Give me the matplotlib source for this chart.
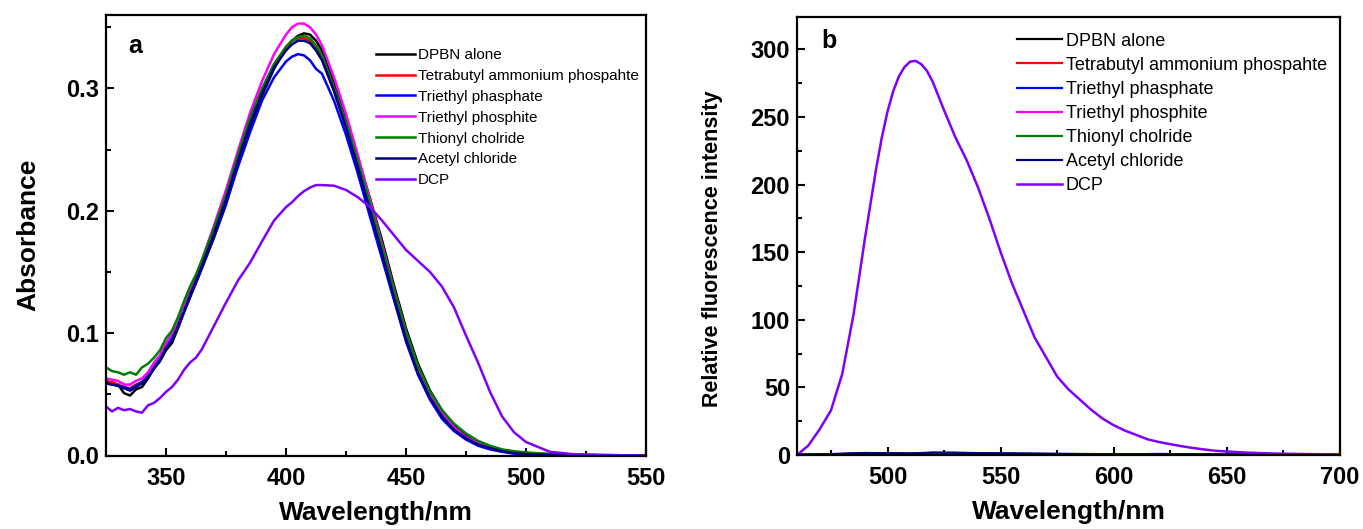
import matplotlib
matplotlib.use("Agg")
import matplotlib.pyplot as plt
from matplotlib.ticker import MultipleLocator

plt.rcParams['font.family'] = ['Liberation Sans', 'DejaVu Sans']

# ---- panel a: absorbance ----
wl_a = [325, 327.5, 330, 332.5, 335, 337.5, 340, 342.5, 345, 347.5, 350, 352.5, 355, 357.5, 360, 362.5, 365,
        370, 375, 380, 385, 390, 395, 400, 402.5, 405, 407.5, 410, 412.5,
        415, 420, 425, 430, 435, 440, 445, 450, 455, 460, 465, 470, 475, 480, 485, 490, 495, 500,
        510, 520, 530, 540, 550]

abs_dpbn = [.061, .059, .058, .051, .049, .054, .056, .063, .071, .077, .086, .092, .104, .117, .129, .141, .153,
            .178, .205, .238, .268, .294, .316, .333, .339, .343, .345, .344, .339,
            .331, .304, .275, .243, .210, .176, .139, .104, .075, .053, .037, .025, .017, .011, .007, .0045, .003, .002,
            .001, .0005, .0003, .0002, .0001]
abs_tbap = [.060, .060, .058, .056, .055, .058, .060, .066, .073, .079, .089, .095, .108, .120, .133, .145, .157,
            .183, .211, .243, .273, .298, .319, .334, .339, .341, .341, .339, .333,
            .324, .298, .268, .235, .201, .166, .130, .096, .068, .047, .032, .021, .014, .009, .006, .004, .0025, .0015,
            .0008, .0004, .0002, .0001, 0]
abs_tep = [.059, .058, .057, .056, .054, .057, .060, .065, .072, .080, .089, .096, .106, .117, .130, .142, .154,
           .180, .206, .236, .264, .290, .309, .322, .326, .328, .327, .323, .316,
           .312, .290, .262, .230, .195, .161, .127, .093, .066, .0455, .030, .020, .013, .008, .005, .003, .0015, .001,
           .0005, .0002, .0001, 0, 0]
abs_tepi = [.063, .062, .061, .058, .058, .061, .063, .068, .076, .082, .092, .100, .108, .121, .135, .146, .160,
            .188, .217, .249, .280, .306, .328, .344, .350, .353, .353, .350, .344,
            .335, .309, .279, .245, .209, .173, .136, .101, .072, .050, .034, .023, .015, .010, .006, .004, .0025, .0015,
            .0007, .0003, .0002, .0001, 0]
abs_socl = [.072, .069, .068, .066, .068, .066, .072, .075, .080, .086, .096, .102, .113, .126, .138, .148, .160,
            .186, .213, .246, .276, .300, .320, .334, .339, .342, .343, .341, .335,
            .327, .301, .272, .240, .206, .171, .135, .101, .073, .052, .037, .026, .018, .012, .008, .005, .0035, .0025,
            .0012, .0006, .0003, .0002, .0001]
abs_accl = [.059, .058, .057, .055, .053, .056, .059, .064, .071, .078, .088, .094, .106, .118, .131, .143, .155,
            .181, .209, .241, .271, .296, .317, .331, .336, .339, .339, .337, .331,
            .323, .298, .268, .235, .200, .165, .129, .095, .067, .047, .032, .021, .014, .009, .006, .0035, .002, .0012,
            .0006, .0003, .0001, 0, 0]
abs_dcp = [.040, .036, .039, .037, .038, .036, .035, .041, .043, .047, .052, .056, .062, .070, .076, .080, .087,
           .106, .125, .143, .1575, .175, .192, .203, .207, .212, .216, .219, .221,
           .221, .2205, .217, .211, .203, .192, .180, .168, .159, .150, .138, .121, .098, .076, .052, .032, .019, .011,
           .003, .001, .0005, .0002, .0001]

# ---- panel b: fluorescence ----
wl_b = [460, 465, 470, 475, 480, 485, 490, 495, 497.5, 500, 502.5, 505, 507.5, 510, 512.5, 515, 517.5,
        520, 525, 530, 535, 540, 545, 550,
        555, 560, 565, 570, 575, 580, 585, 590, 595, 600, 605, 610, 615, 620, 625, 630, 635, 640, 645, 650,
        655, 660, 665, 670, 675, 680, 685, 690, 695, 700]
fl_dcp = [0, 7, 19, 33, 60, 104, 160, 212, 235, 254, 269, 280, 287, 291, 291.5, 289, 284,
          276, 255, 235, 218, 198, 175, 150,
          127, 107, 87, 72.5, 58, 48.5, 41, 33.5, 27, 22, 18, 14.8, 11.6, 9.6, 8, 6.5, 5.2, 4.1, 3.1, 2.6,
          2.1, 1.7, 1.4, 1.1, 0.9, 0.8, 0.7, 0.6, 0.5, 0.4]

wl_b_low = [460, 470, 480, 490, 500, 510, 520, 530, 540, 550, 560, 570, 580, 590, 600, 610, 620, 630,
            640, 650, 660, 670, 680, 690, 700]
fl_dpbn = [0.2, 0.4, 0.8, 1.4, 1.2, 1.0, 1.6, 1.5, 1.2, 1.0, 0.9, 0.8, 0.7, 0.6, 0.5, 0.5, 0.6, 0.5,
           0.4, 0.4, 0.3, 0.3, 0.3, 0.2, 0.2]
fl_tbap = [0.2, 0.3, 0.6, 1.0, 0.9, 0.8, 1.2, 1.1, 1.0, 0.8, 0.7, 0.6, 0.6, 0.5, 0.4, 0.4, 0.5, 0.4,
           0.3, 0.3, 0.3, 0.2, 0.2, 0.2, 0.2]
fl_tep = [0.2, 0.3, 0.7, 1.1, 1.0, 0.9, 1.3, 1.2, 1.0, 0.9, 0.8, 0.7, 0.6, 0.5, 0.5, 0.4, 0.5, 0.4,
          0.3, 0.3, 0.3, 0.2, 0.2, 0.2, 0.2]
fl_tepi = [0.2, 0.3, 0.6, 1.0, 0.9, 0.8, 1.1, 1.0, 0.9, 0.8, 0.7, 0.6, 0.5, 0.5, 0.4, 0.4, 0.4, 0.3,
           0.3, 0.3, 0.2, 0.2, 0.2, 0.2, 0.2]
fl_socl = [0.2, 0.4, 0.7, 1.2, 1.1, 1.0, 1.4, 1.3, 1.1, 1.0, 0.8, 0.7, 0.6, 0.6, 0.5, 0.5, 0.5, 0.4,
           0.4, 0.3, 0.3, 0.3, 0.2, 0.2, 0.2]
fl_accl = [0.2, 0.5, 0.9, 1.5, 1.3, 1.1, 1.8, 1.7, 1.4, 1.2, 1.0, 0.9, 0.8, 0.7, 0.6, 0.6, 0.8, 0.6,
           0.5, 0.4, 0.4, 0.3, 0.3, 0.3, 0.2]

labels = ['DPBN alone', 'Tetrabutyl ammonium phospahte', 'Triethyl phasphate',
          'Triethyl phosphite', 'Thionyl cholride', 'Acetyl chloride', 'DCP']
colors = ['#000000', '#ff0000', '#0000ff', '#ff00ff', '#008000', '#000080', '#8000ff']

W, H = 1363, 529
fig = plt.figure(figsize=(W / 100, H / 100), dpi=100)
ax1 = fig.add_axes([106 / W, (H - 455.5) / H, 540 / W, 440.5 / H])
ax2 = fig.add_axes([797 / W, (H - 455) / H, 543 / W, 438 / H])

series_a = [abs_dpbn, abs_tbap, abs_tep, abs_tepi, abs_socl, abs_accl, abs_dcp]
for ys, lab, c in zip(series_a, labels, colors):
    ax1.plot(wl_a, ys, color=c, lw=1.8, label=lab)

series_b = [fl_dpbn, fl_tbap, fl_tep, fl_tepi, fl_socl, fl_accl]
for ys, lab, c in zip(series_b, labels[:-1], colors[:-1]):
    ax2.plot(wl_b_low, ys, color=c, lw=1.6, label=lab)
ax2.plot(wl_b, fl_dcp, color=colors[-1], lw=1.8, label=labels[-1])

ax1.set_xlim(325, 550)
ax1.set_ylim(0, 0.36)
ax1.xaxis.set_major_locator(MultipleLocator(50))
ax1.xaxis.set_minor_locator(MultipleLocator(25))
ax1.yaxis.set_major_locator(MultipleLocator(0.1))
ax1.yaxis.set_minor_locator(MultipleLocator(0.05))
ax1.yaxis.set_major_formatter(plt.FormatStrFormatter('%.1f'))

ax2.set_xlim(460, 700)
ax2.set_ylim(0, 324)
ax2.xaxis.set_major_locator(MultipleLocator(50))
ax2.xaxis.set_minor_locator(MultipleLocator(25))
ax2.yaxis.set_major_locator(MultipleLocator(50))
ax2.yaxis.set_minor_locator(MultipleLocator(25))

for ax in (ax1, ax2):
    for s in ax.spines.values():
        s.set_linewidth(1.6)
    ax.tick_params(which='both', direction='in', width=1.5, labelsize=17)
    ax.tick_params(which='major', length=6)
    ax.tick_params(which='minor', length=3.5)
    ax.tick_params(axis='x', pad=8)
    ax.tick_params(axis='y', pad=5)
    for t in ax.get_xticklabels() + ax.get_yticklabels():
        t.set_fontweight('bold')
    ax.set_xlabel('Wavelength/nm', fontsize=19, fontweight='bold', va='center')
    ax.xaxis.set_label_coords(0.5, -0.13)

ax1.set_ylabel('Absorbance', fontsize=19, fontweight='bold', va='center')
ax1.yaxis.set_label_coords(-0.144, 0.5)
ax2.set_ylabel('Relative fluorescence intensity', fontsize=15.5, fontweight='bold', va='center')
ax2.yaxis.set_label_coords(-0.155, 0.47)

ax1.text(0.042, 0.93, 'a', transform=ax1.transAxes, fontsize=18, fontweight='bold', va='center')
ax2.text(0.044, 0.945, 'b', transform=ax2.transAxes, fontsize=18, fontweight='bold', va='center')

ax1.legend(loc='upper left', bbox_to_anchor=(0.5, 0.925), frameon=False, fontsize=11,
           handlelength=2.55, handletextpad=0.2, labelspacing=0.45, borderpad=0, borderaxespad=0)
ax2.legend(loc='upper left', bbox_to_anchor=(0.405, 0.964), frameon=False, fontsize=13,
           handlelength=2.5, handletextpad=0.2, labelspacing=0.39, borderpad=0, borderaxespad=0)

fig.savefig('out.png', dpi=100)
